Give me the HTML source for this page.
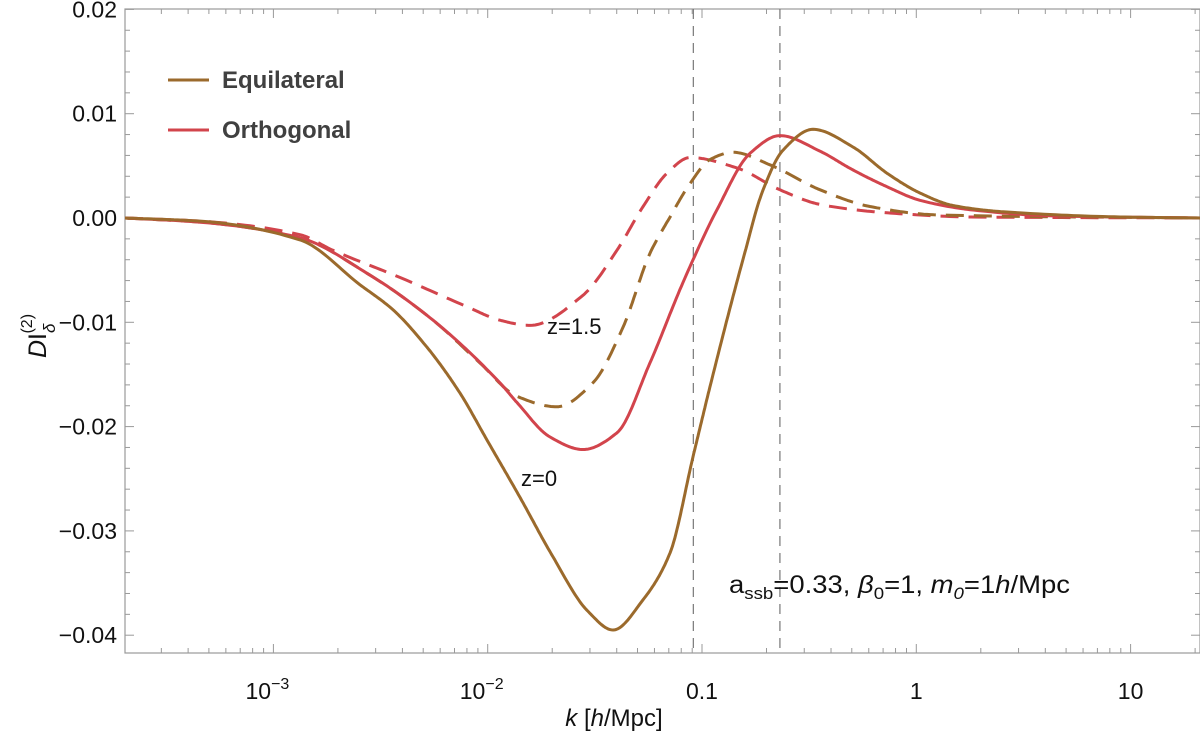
<!DOCTYPE html>
<html><head><meta charset="utf-8"><style>
body{margin:0;background:#fff}
svg{display:block;font-family:"Liberation Sans",sans-serif}
</style></head><body>
<svg id="chart" width="1200" height="738" viewBox="0 0 1200 738"></svg>
<script>
// log10(k) values and D values per series
const eqSolidLogK=[-3.692,-3.342,-2.876,-2.596,-2.442,-2.283,-2.129,-2.003,-1.849,-1.695,-1.537,-1.415,-1.275,-1.149,-1.042,-0.963,-0.809,-0.715,-0.622,-0.482,-0.295,-0.137,0.017,0.171,0.405,0.951,1.324];
const eqSolidD=[0,-0.0003,-0.0021,-0.0064,-0.0088,-0.0124,-0.0168,-0.0213,-0.0268,-0.0325,-0.0376,-0.0395,-0.0366,-0.0321,-0.0229,-0.0162,-0.004,0.0027,0.0065,0.0085,0.0068,0.0043,0.0024,0.0012,0.0006,0.0001,0];
const orSolidLogK=[-3.692,-3.342,-2.876,-2.563,-2.255,-1.943,-1.863,-1.709,-1.555,-1.397,-1.243,-1.089,-0.93,-0.776,-0.636,-0.449,-0.295,-0.137,0.017,0.251,0.638,1.324];
const orSolidD=[0,-0.0004,-0.0019,-0.0053,-0.0098,-0.0158,-0.0177,-0.021,-0.0222,-0.0206,-0.0139,-0.0062,0.0008,0.0062,0.0079,0.0064,0.0046,0.003,0.0017,0.0008,0.0002,0];
const eqDashLogK=[-3.692,-3.342,-2.876,-2.563,-2.255,-2.036,-1.863,-1.677,-1.509,-1.369,-1.243,-1.149,-1.056,-0.963,-0.855,-0.683,-0.449,-0.216,0.097,1.324];
const eqDashD=[0,-0.0004,-0.0019,-0.0053,-0.0098,-0.0139,-0.0171,-0.0181,-0.0158,-0.0105,-0.0034,0.0001,0.0033,0.0056,0.0063,0.0051,0.0027,0.0011,0.0003,0];
const orDashLogK=[-3.692,-3.342,-2.876,-2.722,-2.409,-2.097,-1.943,-1.803,-1.555,-1.397,-1.275,-1.163,-1.056,-0.837,-0.636,-0.449,-0.137,0.251,1.324];
const orDashD=[0,-0.0003,-0.0016,-0.0031,-0.0057,-0.0085,-0.0098,-0.0103,-0.0074,-0.0031,0.0011,0.0043,0.0058,0.0048,0.0027,0.0013,0.0005,0.0001,0];
const yTicks=[0.02,0.01,0,-0.01,-0.02,-0.03,-0.04];
const yTickLabels=["0.02","0.01","0.00","\u22120.01","\u22120.02","\u22120.03","\u22120.04"];
const xDecades=[-3,-2,-1,0,1];
const refLinesK=[0.0911,0.231];

const NS="http://www.w3.org/2000/svg";
const svg=document.getElementById('chart');
const L=125,R=1200,T=9,B=653;
function XL(lk){return 702+(lk+1)*214.3;}
function X(k){return XL(Math.log10(k));}
function Y(v){return 218-v*10430;}
function el(t,a,p){const e=document.createElementNS(NS,t);for(const k in a)e.setAttribute(k,a[k]);(p||svg).appendChild(e);return e;}

const frame=el('rect',{x:L,y:T,width:R-L,height:B-T,fill:'none',stroke:'#999','stroke-width':1.2});



for(let v=-0.042;v<=0.0201;v+=0.002){
  const vv=Math.round(v*1000)/1000;const y=Y(vv);
  if(y>B||y<T-1)continue;
  const major=Math.abs(Math.round(vv*100)-vv*100)<1e-6;
  const len=major?9:5;
  const t1=el('line',{x1:L,x2:L+len,y1:y,y2:y,stroke:'#999','stroke-width':1});
  
  
  const t2=el('line',{x1:R-len,x2:R,y1:y,y2:y,stroke:'#999','stroke-width':1});
  
  
}
yTicks.forEach((v,i)=>{
  const t=el('text',{x:L-8,y:Y(v)+8,'text-anchor':'end','font-size':23,fill:'#111'});
  t.textContent=yTickLabels[i];
  
  
});
for(let d=-4;d<=1;d++){
  for(let m=1;m<=9;m++){
    const k=m*Math.pow(10,d);const x=X(k);
    if(x<L||x>R)continue;
    const len=m===1?9:5;
    const a=el('line',{x1:x,x2:x,y1:B,y2:B-len,stroke:'#999','stroke-width':1});
    
    
    const b=el('line',{x1:x,x2:x,y1:T,y2:T+len,stroke:'#999','stroke-width':1});
    
    
  }
}
xDecades.forEach(d=>{
  const x=X(Math.pow(10,d));
  const t=el('text',{x:x,y:B+46,'text-anchor':'middle','font-size':23,fill:'#111'});
  if(d===-1)t.textContent='0.1';else if(d===0)t.textContent='1';else if(d===1)t.textContent='10';
  else{t.textContent='10';const s=el('tspan',{dy:-10,'font-size':16},t);s.textContent='\u2212'+(-d);t.setAttribute('x',x-6);}
  
  
});
refLinesK.forEach(k=>{
  const l=el('line',{x1:X(k),x2:X(k),y1:T,y2:B,stroke:'#777','stroke-width':1.2,'stroke-dasharray':'10,7'});
  
  
});
function path(lks,ds){
  const xs=lks.map(XL),ys=ds.map(Y),n=xs.length;
  const dl=[],m=new Array(n);
  for(let i=0;i<n-1;i++)dl.push((ys[i+1]-ys[i])/(xs[i+1]-xs[i]));
  m[0]=dl[0];m[n-1]=dl[n-2];
  for(let i=1;i<n-1;i++){
    if(dl[i-1]*dl[i]<=0)m[i]=0;
    else{const w1=2*(xs[i+1]-xs[i])+(xs[i]-xs[i-1]),w2=(xs[i+1]-xs[i])+2*(xs[i]-xs[i-1]);m[i]=(w1+w2)/(w1/dl[i-1]+w2/dl[i]);}
  }
  let d='M'+xs[0].toFixed(1)+','+ys[0].toFixed(1);
  for(let i=0;i<n-1;i++){
    const h=xs[i+1]-xs[i];
    for(let s=1;s<=20;s++){
      const t=s/20,t2=t*t,t3=t2*t;
      const y=(2*t3-3*t2+1)*ys[i]+(t3-2*t2+t)*h*m[i]+(-2*t3+3*t2)*ys[i+1]+(t3-t2)*h*m[i+1];
      d+=' L'+(xs[i]+t*h).toFixed(1)+','+y.toFixed(1);
    }
  }
  return d;
}
const BROWN='#9b6a2c',RED='#d2444c';
const s1=el('path',{d:path(orDashLogK,orDashD),fill:'none',stroke:RED,'stroke-width':3,'stroke-dasharray':'18,10','stroke-linejoin':'round'});


const s2=el('path',{d:path(eqDashLogK,eqDashD),fill:'none',stroke:BROWN,'stroke-width':3,'stroke-dasharray':'18,10','stroke-linejoin':'round'});


const s3=el('path',{d:path(orSolidLogK,orSolidD),fill:'none',stroke:RED,'stroke-width':3,'stroke-linejoin':'round'});


const s4=el('path',{d:path(eqSolidLogK,eqSolidD),fill:'none',stroke:BROWN,'stroke-width':3,'stroke-linejoin':'round'});


</script>
<svg style="position:absolute;left:0;top:0" width="1200" height="738">
  <g font-family="Liberation Sans, sans-serif" font-weight="bold" font-size="24" fill="#404040">
    <line x1="168" y1="80" x2="209" y2="80" stroke="#9b6a2c" stroke-width="3"/>
    <text x="222" y="88">Equilateral</text>
    <line x1="168" y1="130" x2="209" y2="130" stroke="#d2444c" stroke-width="3"/>
    <text x="222" y="138">Orthogonal</text>
  </g>
  <g font-family="Liberation Sans, sans-serif" font-size="22" fill="#111">
    <text x="547" y="334">z=1.5</text>
    <text x="521" y="486">z=0</text>
    <text x="729" y="593" font-size="25" textLength="341" lengthAdjust="spacingAndGlyphs">a<tspan font-size="17" dy="6">ssb</tspan><tspan dy="-6">=0.33, </tspan><tspan font-style="italic">β</tspan><tspan font-size="17" dy="6">0</tspan><tspan dy="-6">=1, </tspan><tspan font-style="italic">m</tspan><tspan font-size="17" dy="6" font-style="italic">0</tspan><tspan dy="-6">=1</tspan><tspan font-style="italic">h</tspan>/Mpc</text>
    <text x="614" y="726" text-anchor="middle" font-size="24"><tspan font-style="italic">k</tspan> [<tspan font-style="italic">h</tspan>/Mpc]</text>
    <text transform="translate(46,358) rotate(-90)" font-size="25"><tspan font-style="italic">D</tspan>I<tspan font-size="17" dy="9" font-style="italic">δ</tspan><tspan font-size="16" dy="-23" dx="-10">(2)</tspan></text>
  </g>
</svg>
</body></html>
